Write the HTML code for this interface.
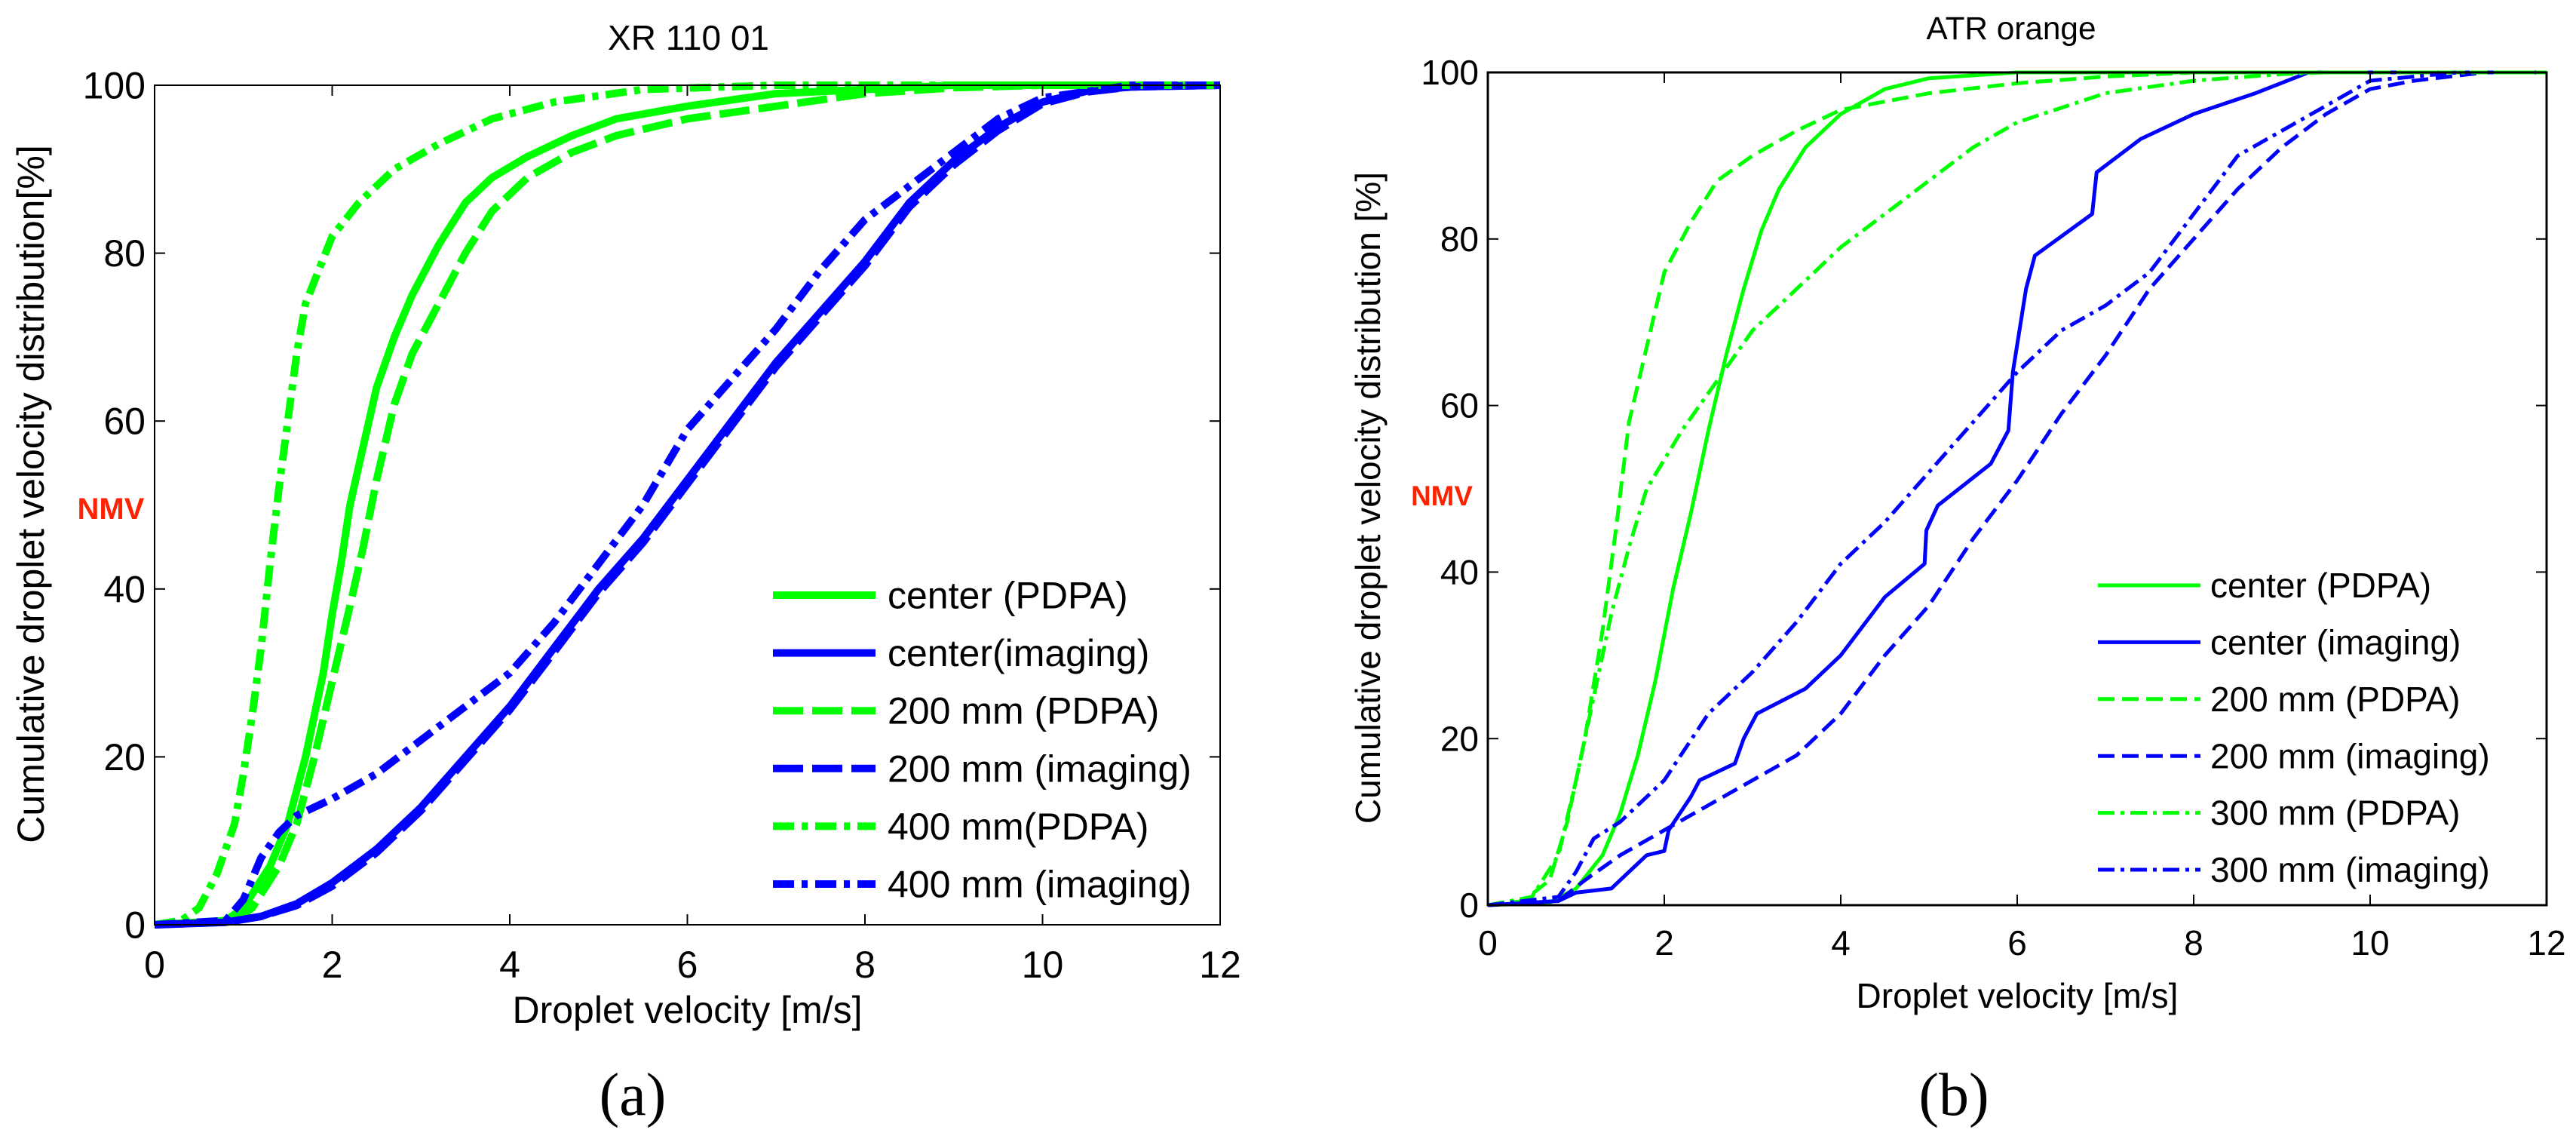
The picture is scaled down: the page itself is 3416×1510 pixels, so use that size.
<!DOCTYPE html>
<html><head><meta charset="utf-8"><style>
html,body{margin:0;padding:0;background:#fff;width:3416px;height:1510px;overflow:hidden}
svg{display:block}
text{font-family:"Liberation Sans",sans-serif}
text.serif{font-family:"Liberation Serif",serif}
</style></head>
<body>
<svg id="fig" width="3416" height="1510" xmlns="http://www.w3.org/2000/svg"></svg>
<script>
// ---------- data: panel (a) XR 110 01 ----------
const aCenterPdpaX=[0,0.8,1.0,1.3,1.5,1.7,1.9,2.0,2.1,2.2,2.35,2.5,2.7,2.9,3.2,3.5,3.8,4.2,4.7,5.2,6,7,8,9,12];
const aCenterPdpaY=[0,0.5,2,7,12,20,30,37,43,50,57,64,70,75,81,86,89,91.5,94,96,97.5,99,99.5,100,100];
const aCenterImgX=[0,0.8,1.2,1.6,2,2.5,3,3.5,4,4.5,5,5.5,6,6.5,7,7.5,8,8.5,9,9.5,10,10.5,11,12];
const aCenterImgY=[0,0.3,1,2.5,5,9,14,20,26,33,40,46,53,60,67,73,79,86,91,95,98,99.3,99.8,100];
const a200PdpaX=[0,0.9,1.1,1.4,1.6,1.8,2.0,2.2,2.35,2.5,2.7,2.9,3.2,3.5,3.8,4.2,4.7,5.2,6,7,8,9,10,12];
const a200PdpaY=[0,0.5,2,7,12,20,29,38,45,53,62,68,74,80,85,89,92,94,96,97.5,99,99.7,100,100];
const a200ImgX=[0,0.8,1.2,1.6,2,2.5,3,3.5,4,4.5,5,5.5,6,6.5,7,7.5,8,8.5,9,9.5,10,10.5,11,12];
const a200ImgY=[0,0.3,1,2.3,4.6,8.6,13.6,19.6,25.6,32.5,39.5,45.5,52.5,59.5,66.5,72.5,78.5,85.5,90.5,94.6,97.8,99.2,99.8,100];
const a400PdpaX=[0,0.3,0.5,0.7,0.9,1.0,1.1,1.2,1.3,1.4,1.5,1.6,1.7,1.85,2.0,2.3,2.7,3.2,3.8,4.5,5.5,7,12];
const a400PdpaY=[0,0.5,2,6,12,18,25,33,43,52,60,68,74,78,82,86,90,93,96,98,99.5,100,100];
const a400ImgX=[0,0.8,1.0,1.2,1.4,1.6,2,2.5,3,3.5,4,4.5,5,5.5,6,6.5,7,7.5,8,8.5,9,9.5,10,11,12];
const a400ImgY=[0,0.5,3,8,11,13,15,18,22,26,30,36,43,50,59,65,71,78,84,88,92,96,98.5,100,100];
// ---------- data: panel (b) ATR orange ----------
const bCenterPdpaX=[0,0.7,1.0,1.3,1.5,1.7,1.9,2.1,2.3,2.5,2.7,2.9,3.1,3.3,3.6,4,4.5,5,6,12];
const bCenterPdpaY=[0,0.3,2,6,11,18,27,38,47,57,66,74,81,86,91,95,98,99.3,100,100];
const bCenterImgX=[0,0.8,1.0,1.4,1.6,1.8,2.0,2.05,2.3,2.4,2.8,2.9,3.05,3.6,4.0,4.5,4.95,4.97,5.1,5.7,5.9,5.95,6.1,6.2,6.85,6.9,7.4,8,8.7,9.3,12];
const bCenterImgY=[0,0.5,1.5,2,4,6,6.5,9,13,15,17,20,23,26,30,37,41,45,48,53,57,64,74,78,83,88,92,95,97.5,100,100];
const b200PdpaX=[0,0.4,0.7,0.9,1.1,1.3,1.45,1.6,1.8,2.0,2.3,2.6,3,3.5,4,5,6,7,8,12];
const b200PdpaY=[0,0.5,3,10,20,33,45,58,67,76,82,87,90,93,95.5,97.5,98.7,99.5,100,100];
const b200ImgX=[0,0.8,1.1,1.5,2,2.5,3,3.5,4,4.5,5,5.5,6,6.5,7,7.5,8,8.5,9,9.5,10,10.5,11.3];
const b200ImgY=[0,0.5,3,6,9,12,15,18,23,30,36,44,51,59,66,74,80,86,91,95,98,99,100];
const b300PdpaX=[0,0.5,0.8,1.0,1.2,1.4,1.6,1.8,2.2,2.6,3,3.5,4,4.5,5,5.5,6,7,8,9,9.5,12];
const b300PdpaY=[0,1,6,15,25,35,43,50,57,63,69,74,79,83,87,91,94,97.5,99,99.8,100,100];
const b300ImgX=[0,0.8,1.0,1.2,1.5,2,2.5,3,3.5,4,4.5,5,5.5,6,6.5,7,7.5,8,8.5,9,9.5,10,10.5,11];
const b300ImgY=[0,1,4,8,10,15,23,28,34,41,46,52,58,64,69,72,76,83,90,93,96,99,99.5,100];
const xTicks=[0,2,4,6,8,10,12];
const yTicks=[0,20,40,60,80,100];
const legendA=["center (PDPA)","center(imaging)","200 mm (PDPA)","200 mm (imaging)","400 mm(PDPA)","400 mm (imaging)"];
const legendB=["center (PDPA)","center (imaging)","200 mm (PDPA)","200 mm (imaging)","300 mm (PDPA)","300 mm (imaging)"];

const NS="http://www.w3.org/2000/svg";
const svg=document.getElementById('fig');
function mk(tag,attrs,parent){const e=document.createElementNS(NS,tag);for(const k in attrs)e.setAttribute(k,attrs[k]);(parent||svg).appendChild(e);return e;}
function txt(s,attrs,parent){const e=mk('text',attrs,parent);e.textContent=s;return e;}

const GREEN="#00ff00",BLUE="#0000ff";

function panel(cfg){
  const g=mk('g',{});
  
  
  const L=cfg.L,R=cfg.R,T=cfg.T,B=cfg.B;
  const sx=v=>L+(R-L)*v/12, sy=v=>B-(B-T)*v/100;
  cfg.series.forEach(s=>{
    const pts=s.x.map((v,i)=>sx(v).toFixed(1)+','+sy(s.y[i]).toFixed(1)).join(' ');
    const p=mk('polyline',{points:pts,fill:'none',stroke:s.c,'stroke-width':cfg.lw,'stroke-linejoin':'round','stroke-dasharray':s.d||'none'},g);
    
    
  });
  const fr=mk('rect',{x:L,y:T,width:R-L,height:B-T,fill:'none',stroke:'#000','stroke-width':cfg.fw},g);
  
  
  xTicks.forEach(t=>{
    const x=sx(t);
    mk('line',{x1:x,y1:B,x2:x,y2:B-14,stroke:'#000','stroke-width':2},g);
    mk('line',{x1:x,y1:T,x2:x,y2:T+14,stroke:'#000','stroke-width':2},g);
    const lb=txt(String(t),{x:x,y:cfg.xTickY,'font-size':cfg.fs,'text-anchor':'middle'},g);
    
    
  });
  yTicks.forEach(t=>{
    const y=sy(t);
    mk('line',{x1:L,y1:y,x2:L+14,y2:y,stroke:'#000','stroke-width':2},g);
    mk('line',{x1:R,y1:y,x2:R-14,y2:y,stroke:'#000','stroke-width':2},g);
    const lb=txt(String(t),{x:L-12,y:y+cfg.fs*0.35,'font-size':cfg.fs,'text-anchor':'end'},g);
    
    
  });
  const tt=txt(cfg.title,{x:cfg.titleX,y:cfg.titleY,'font-size':cfg.fs*0.92,'text-anchor':'middle'},g);
  
  
  const xl=txt('Droplet velocity [m/s]',{x:(L+R)/2,y:cfg.xLabY,'font-size':cfg.fs,'text-anchor':'middle'},g);
  
  
  const yl=txt(cfg.ylab,{x:0,y:0,'font-size':cfg.fs,'text-anchor':'middle',transform:`translate(${cfg.yLabX},${cfg.yLabCY}) rotate(-90)`},g);
  
  
  const nm=txt('NMV',{x:cfg.nmvX,y:cfg.nmvY,'font-size':cfg.fs*0.8,'font-weight':'bold',fill:'#ff2200','text-anchor':'middle'},g);
  
  
  const cap=mk('text',{x:cfg.capX,y:1478,'font-size':80,'text-anchor':'middle','class':'serif'},g);
  cap.textContent=cfg.cap;
  
  
  cfg.legend.forEach((lab,i)=>{
    const s=cfg.series[cfg.legOrder[i]];
    const y=cfg.legY[0]+i*cfg.legDy;
    const le=mk('g',{},g);
    
    
    mk('line',{x1:cfg.legX1,y1:y,x2:cfg.legX2,y2:y,stroke:s.c,'stroke-width':cfg.lw,'stroke-dasharray':s.d||'none'},le);
    txt(lab,{x:cfg.legTX,y:y+cfg.fs*0.35,'font-size':cfg.fs},le);
  });
}

panel({name:'chart-a',L:205,R:1618,T:113,B:1226,lw:10,fw:2,fs:50,
  title:'XR 110 01',titleX:913,titleY:66,xTickY:1296,xLabY:1356,
  ylab:'Cumulative droplet velocity distribution[%]',yLabX:58,yLabCY:655,
  nmvX:147,nmvY:688,capX:839,cap:'(a)',
  series:[
    {n:'center-pdpa-line',x:aCenterPdpaX,y:aCenterPdpaY,c:GREEN},
    {n:'center-imaging-line',x:aCenterImgX,y:aCenterImgY,c:BLUE},
    {n:'200mm-pdpa-line',x:a200PdpaX,y:a200PdpaY,c:GREEN,d:'40 12'},
    {n:'200mm-imaging-line',x:a200ImgX,y:a200ImgY,c:BLUE,d:'40 12'},
    {n:'400mm-pdpa-line',x:a400PdpaX,y:a400PdpaY,c:GREEN,d:'28 10 8 10'},
    {n:'400mm-imaging-line',x:a400ImgX,y:a400ImgY,c:BLUE,d:'28 10 8 10'}],
  legend:legendA,legOrder:[0,1,2,3,4,5],legY:[789],legDy:76.6,legX1:1025,legX2:1161,legTX:1177});

panel({name:'chart-b',L:1973,R:3377,T:96,B:1200,lw:5,fw:3,fs:46,
  title:'ATR orange',titleX:2667,titleY:52,xTickY:1266,xLabY:1336,
  ylab:'Cumulative droplet velocity distribution  [%]',yLabX:1830,yLabCY:660,
  nmvX:1912,nmvY:670,capX:2591,cap:'(b)',
  series:[
    {n:'center-pdpa-line',x:bCenterPdpaX,y:bCenterPdpaY,c:GREEN},
    {n:'center-imaging-line',x:bCenterImgX,y:bCenterImgY,c:BLUE},
    {n:'200mm-pdpa-line',x:b200PdpaX,y:b200PdpaY,c:GREEN,d:'22 10'},
    {n:'200mm-imaging-line',x:b200ImgX,y:b200ImgY,c:BLUE,d:'22 10'},
    {n:'300mm-pdpa-line',x:b300PdpaX,y:b300PdpaY,c:GREEN,d:'22 8 5 8'},
    {n:'300mm-imaging-line',x:b300ImgX,y:b300ImgY,c:BLUE,d:'22 8 5 8'}],
  legend:legendB,legOrder:[0,1,2,3,4,5],legY:[776],legDy:75.4,legX1:2782,legX2:2918,legTX:2931});
</script>
</body></html>
